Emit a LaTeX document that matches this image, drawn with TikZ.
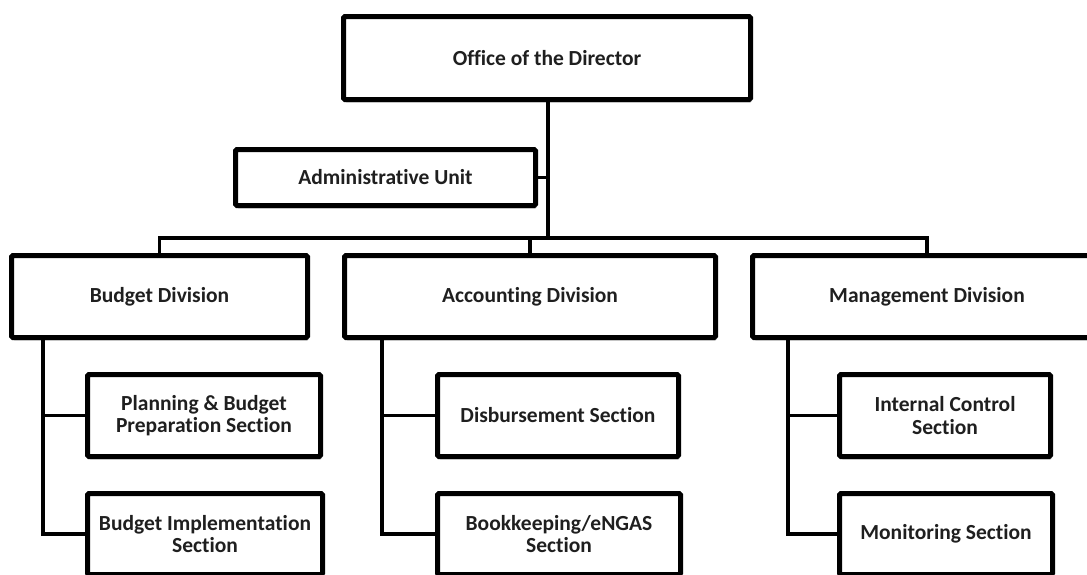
\documentclass[tikz,border=0pt]{standalone}
\usepackage{fontspec}
\setmainfont{Carlito}[Ligatures={NoCommon}]
\usetikzlibrary{shadows}
\begin{document}
\begin{tikzpicture}[x=1pt,y=-1pt,
  box/.style={draw=black, line width=5pt, fill=white, rounded corners=1.5pt,
    inner sep=0pt, align=center, text=black!88,
    font=\fontsize{21.5}{22.5}\selectfont\bfseries,
    drop shadow={shadow xshift=1.5pt, shadow yshift=-3pt, fill=black, opacity=0.18}},
  conn/.style={draw=black, line width=3.5pt, line cap=rect}]
\useasboundingbox (0,0) rectangle (1087,574);
\clip (0,0) rectangle (1087,574);
\fill[white] (0,0) rectangle (1087,574);
\coordinate (bus) at (0,238);
\coordinate (bv) at (43,0);
\coordinate (av) at (382,0);
\coordinate (mv) at (788,0);
\coordinate (dv) at (548,0);
% boxes
\node[box, minimum width=407, minimum height=83] (dir) at (547,58) {Office of the Director};
\node[box, minimum width=300, minimum height=56] (admin) at (385.5,177.5) {Administrative Unit};
\node[box, minimum width=296, minimum height=82] (bud) at (159.5,296.5) {Budget Division};
\node[box, minimum width=371, minimum height=82] (acc) at (530,296.5) {Accounting Division};
\node[box, minimum width=349, minimum height=82] (man) at (927,296.5) {Management Division};
\node[box, minimum width=233, minimum height=82] (plan) at (204,415.5) {Planning \& Budget\\Preparation Section};
\node[box, minimum width=235, minimum height=81] (impl) at (205,534) {Budget Implementation\\Section};
\node[box, minimum width=241, minimum height=82] (disb) at (558,415.5) {Disbursement Section};
\node[box, minimum width=243, minimum height=81] (book) at (559,534) {Bookkeeping/eNGAS\\Section};
\node[box, minimum width=211, minimum height=82] (ic) at (945,415.5) {Internal Control\\Section};
\node[box, minimum width=213, minimum height=81] (mon) at (946,534) {Monitoring Section};
% connectors
\draw[conn] (dir.south -| dv) -- (dv |- bus);
\draw[conn] (admin.east) -- (admin.east -| dv);
\draw[conn] (bud.north) -- (bud.north |- bus) -- (man.north |- bus) -- (man.north);
\draw[conn] (acc.north) -- (acc.north |- bus);
\draw[conn] (bud.south -| bv) -- (impl.west -| bv) -- (impl.west);
\draw[conn] (plan.west -| bv) -- (plan.west);
\draw[conn] (acc.south -| av) -- (book.west -| av) -- (book.west);
\draw[conn] (disb.west -| av) -- (disb.west);
\draw[conn] (man.south -| mv) -- (mon.west -| mv) -- (mon.west);
\draw[conn] (ic.west -| mv) -- (ic.west);
\end{tikzpicture}
\end{document}
